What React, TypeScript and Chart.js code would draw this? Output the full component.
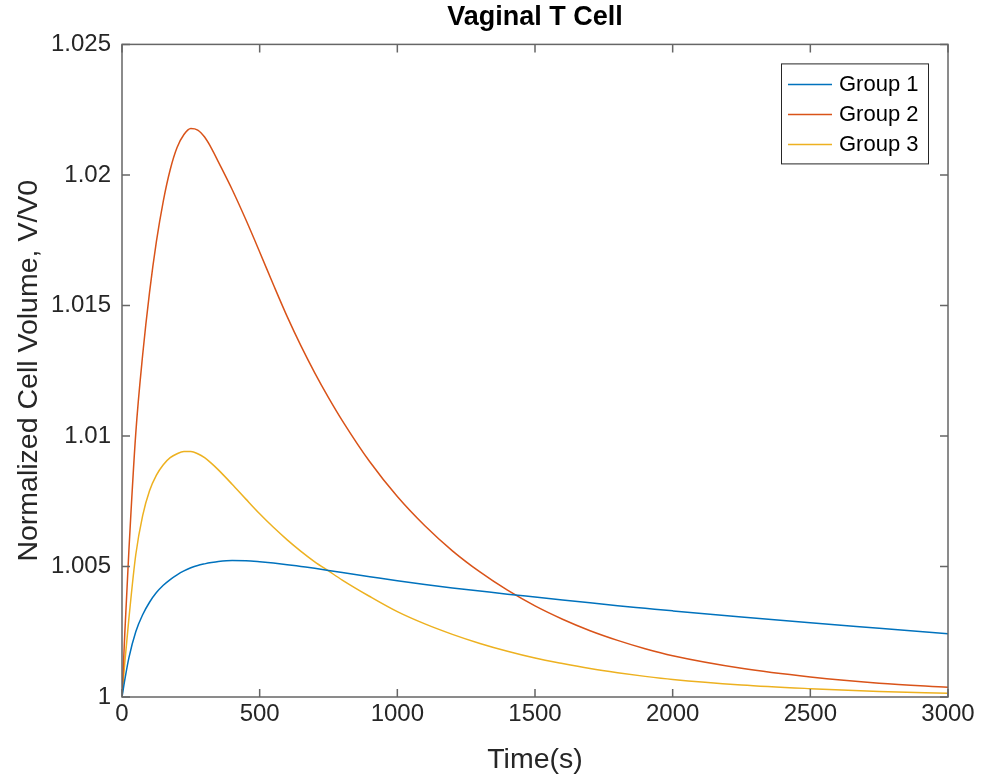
import React, { useEffect, useRef } from "react";
import { Chart, registerables } from "chart.js";

Chart.register(...registerables);

const times = [0, 10, 25, 50, 75, 100, 125, 150, 175, 200, 225, 250, 275, 300, 325, 350, 400, 450, 500, 550, 600, 650, 700, 750, 800, 900, 1000, 1100, 1200, 1300, 1400, 1500, 1600, 1700, 1800, 1900, 2000, 2250, 2500, 2750, 3000];
const group1 = [1.0, 1.00065, 1.0015, 1.0025, 1.00315, 1.00363, 1.004, 1.00428, 1.0045, 1.00468, 1.00483, 1.00495, 1.00504, 1.0051, 1.00515, 1.00519, 1.00523, 1.00522, 1.00518, 1.00513, 1.00507, 1.005, 1.00493, 1.00485, 1.00477, 1.00461, 1.00445, 1.00431, 1.00418, 1.00406, 1.00394, 1.00383, 1.00372, 1.00361, 1.0035, 1.0034, 1.0033, 1.00306, 1.00284, 1.00263, 1.00242];
const group2 = [1.0, 1.0024, 1.0056, 1.0101, 1.0131, 1.0155, 1.01745, 1.019, 1.0202, 1.02105, 1.02155, 1.02178, 1.02172, 1.02145, 1.02102, 1.0205, 1.01944, 1.01828, 1.01705, 1.01579, 1.01457, 1.01345, 1.01242, 1.01147, 1.01059, 1.00901, 1.00768, 1.00656, 1.0056, 1.00479, 1.00409, 1.00349, 1.00298, 1.00254, 1.00217, 1.00185, 1.00158, 1.0011, 1.00077, 1.00053, 1.00037];
const group3 = [1.0, 1.0013, 1.003, 1.00545, 1.00695, 1.0079, 1.0085, 1.0089, 1.00917, 1.00932, 1.0094, 1.0094, 1.00932, 1.00917, 1.00895, 1.0087, 1.00815, 1.00758, 1.00702, 1.0065, 1.00602, 1.00558, 1.00518, 1.00483, 1.00448, 1.00385, 1.00327, 1.0028, 1.0024, 1.00205, 1.00175, 1.00149, 1.00128, 1.00109, 1.00093, 1.00079, 1.00067, 1.00046, 1.00032, 1.00021, 1.00014];
const seriesNames = ["Group 1", "Group 2", "Group 3"];
const seriesColors = ["#0072BD", "#D95319", "#EDB120"];
const xTickStep = 500;
const yTickStep = 0.005;

const FONT = "'Liberation Sans', Arial, Helvetica, sans-serif";

const framePlugin = {
  id: "matlabFrame",
  afterDatasetsDraw(chart: any) {
    const { ctx, chartArea, scales } = chart;
    const { left, top, right, bottom } = chartArea;
    const xs = scales.x;
    const ys = scales.y;
    ctx.save();
    ctx.strokeStyle = "#666666";
    ctx.lineWidth = 1.5;
    ctx.strokeRect(left, top, right - left, bottom - top);
    const L = 8;
    ctx.beginPath();
    xs.ticks.forEach((t: any) => {
      const px = xs.getPixelForValue(t.value);
      ctx.moveTo(px, bottom);
      ctx.lineTo(px, bottom - L);
      ctx.moveTo(px, top);
      ctx.lineTo(px, top + L);
    });
    ys.ticks.forEach((t: any) => {
      const py = ys.getPixelForValue(t.value);
      ctx.moveTo(left, py);
      ctx.lineTo(left + L, py);
      ctx.moveTo(right, py);
      ctx.lineTo(right - L, py);
    });
    ctx.stroke();

    // legend box (MATLAB style, top right inside axes)
    const boxW = 147;
    const boxH = 100;
    const bx = right - 20 - boxW;
    const by = top + 19;
    ctx.fillStyle = "#ffffff";
    ctx.fillRect(bx, by, boxW, boxH);
    ctx.strokeStyle = "#262626";
    ctx.lineWidth = 1;
    ctx.strokeRect(bx + 0.5, by + 0.5, boxW, boxH);
    ctx.font = `22px ${FONT}`;
    ctx.textBaseline = "middle";
    ctx.textAlign = "left";
    chart.data.datasets.forEach((ds: any, i: number) => {
      const cy = by + 21 + i * 30;
      ctx.strokeStyle = ds.borderColor;
      ctx.lineWidth = 1.5;
      ctx.beginPath();
      ctx.moveTo(bx + 7, cy);
      ctx.lineTo(bx + 51, cy);
      ctx.stroke();
      ctx.fillStyle = "#000000";
      ctx.fillText(ds.label, bx + 58, cy + 1);
    });
    ctx.restore();
  },
};

export default function App() {
  const ref = useRef<HTMLCanvasElement | null>(null);
  useEffect(() => {
    if (!ref.current) return;
    const all = [group1, group2, group3];
    const chart = new Chart(ref.current, {
      type: "line",
      data: {
        datasets: all.map((vals, i) => ({
          label: seriesNames[i],
          data: times.map((t, j) => ({ x: t, y: vals[j] })),
          borderColor: seriesColors[i],
          backgroundColor: seriesColors[i],
          borderWidth: 1.5,
          pointRadius: 0,
          cubicInterpolationMode: "monotone" as const,
          fill: false,
        })),
      },
      options: {
        responsive: false,
        animation: false,
        events: [],
        layout: { padding: { left: 0, right: 34, top: 0, bottom: 0 } },
        plugins: {
          legend: { display: false },
          tooltip: { enabled: false },
          title: {
            display: true,
            text: "Vaginal T Cell",
            fullSize: false,
            color: "#000000",
            font: { family: FONT, size: 27, weight: "bold" },
            padding: { top: 1, bottom: 11 },
          },
        },
        scales: {
          x: {
            type: "linear",
            min: 0,
            max: 3000,
            grid: { display: false, drawTicks: false },
            border: { display: false },
            ticks: {
              stepSize: xTickStep,
              color: "#262626",
              font: { family: FONT, size: 24 },
              padding: 3,
              maxRotation: 0,
              callback: (v: any) => String(v),
            },
            title: {
              display: true,
              text: "Time(s)",
              color: "#262626",
              font: { family: FONT, size: 28.5 },
              padding: { top: 0, bottom: 2 },
            },
            afterFit: (s: any) => {
              s.height = 82;
            },
          },
          y: {
            type: "linear",
            min: 1,
            max: 1.025,
            grid: { display: false, drawTicks: false },
            border: { display: false },
            ticks: {
              stepSize: yTickStep,
              color: "#262626",
              font: { family: FONT, size: 24 },
              padding: 11,
              callback: (v: any) => String(Number(Number(v).toFixed(3))),
            },
            title: {
              display: true,
              text: "Normalized Cell Volume, V/V0",
              color: "#262626",
              font: { family: FONT, size: 28.5 },
              padding: { top: 12, bottom: 0 },
            },
            afterFit: (s: any) => {
              s.width = 122;
            },
          },
        },
      },
      plugins: [framePlugin],
    });
    return () => chart.destroy();
  }, []);
  return (
    <div style={{ position: "absolute", left: 0, top: 0, width: 982, height: 779, background: "#fff" }}>
      <canvas ref={ref} width={982} height={779} style={{ display: "block" }} />
    </div>
  );
}
